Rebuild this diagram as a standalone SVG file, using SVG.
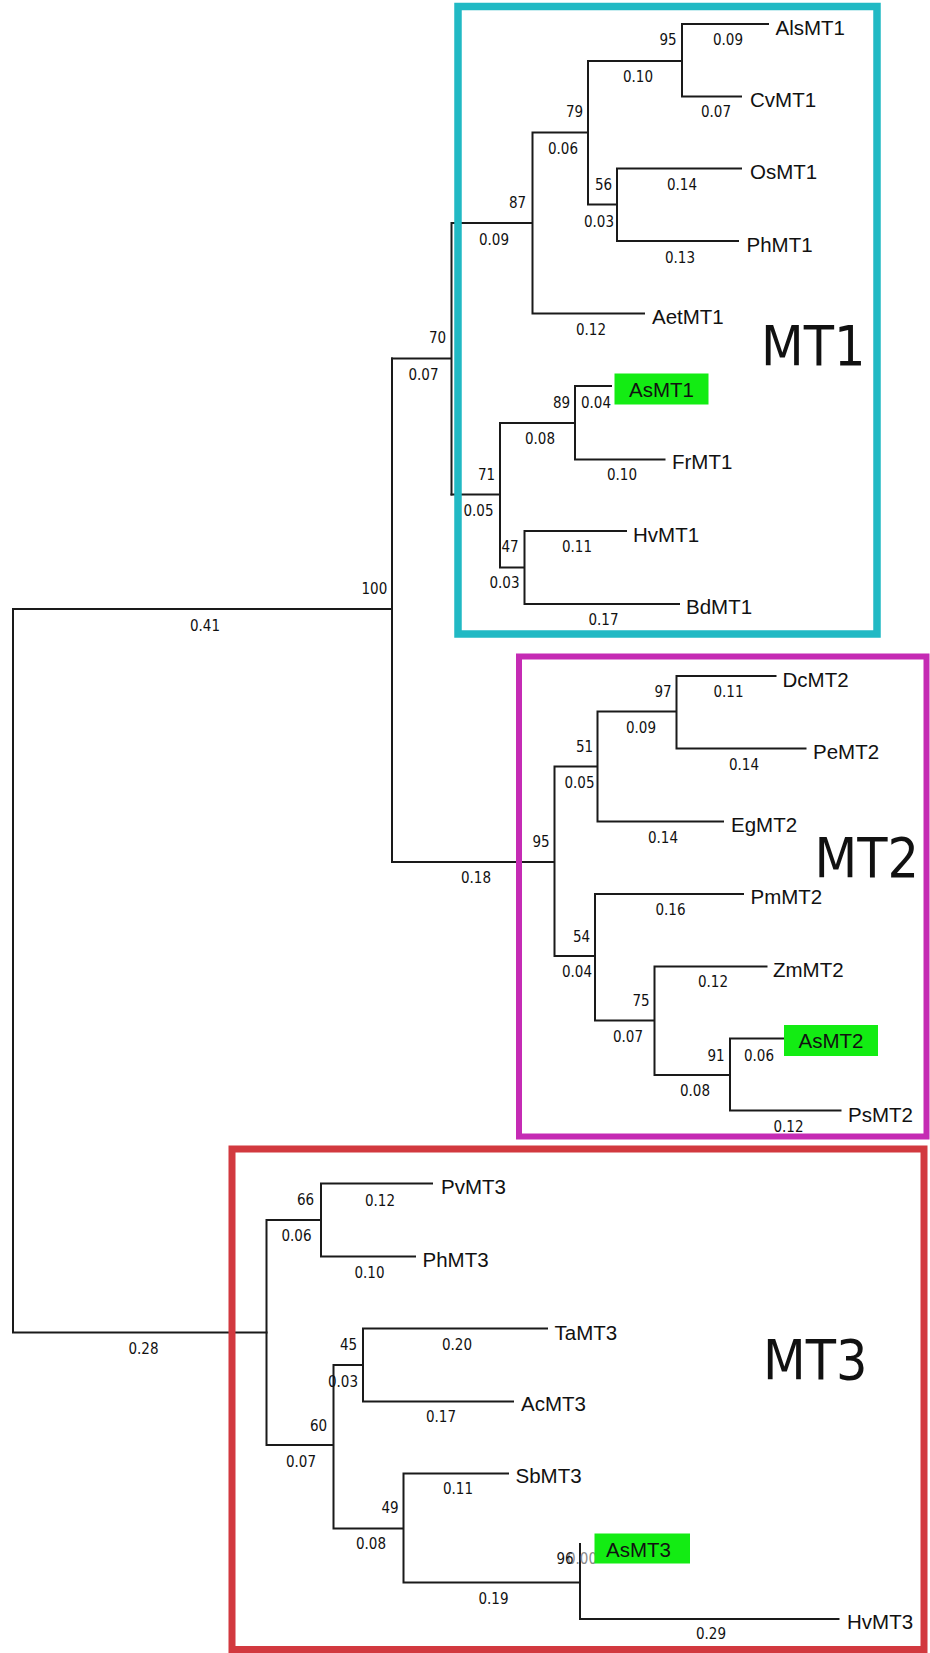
<svg xmlns="http://www.w3.org/2000/svg" width="930" height="1653" viewBox="0 0 930 1653">
<style>
.br{fill:none;stroke:#1a1a1a;stroke-width:2;stroke-linecap:square}
.leaf{font-family:"Liberation Sans",Arial,sans-serif;font-size:20.5px;fill:#111}
.num{font-family:"DejaVu Sans Condensed","DejaVu Sans",sans-serif;font-stretch:condensed;font-size:15px;fill:#111}
.big{font-family:"DejaVu Sans Condensed","DejaVu Sans",sans-serif;font-stretch:condensed;font-size:55px;fill:#111}
.hl{fill:#13ec13}
.box{fill:none}
</style>
<rect width="930" height="1653" fill="#fff"/>
<g id="connectors">
<path class="br" d="M13,609 H392 M13,609 V1332.5 H266.5 M392,358.5 V862"/>
<path class="br" d="M392,358.5 H451.5 M451.5,223 V494.5 M451.5,223 H532.5 M532.5,132.5 V313.5 H644 M532.5,132.5 H588 M588,61 V204.5 M588,61 H682 M682,24 V96.5 M682,24 H768 M682,96.5 H741 M588,204.5 H617 M617,168.5 V241 M617,168.5 H741 M617,241 H738"/>
<path class="br" d="M451.5,494.5 H500 M500,423 V567.5 M500,423 H575 M575,386 V459.5 M575,386 H611 M575,459.5 H664.5 M500,567.5 H524.5 M524.5,531 V604 M524.5,531 H626 M524.5,604 H679"/>
<path class="br" d="M392,862 H554.5 M554.5,766.5 V956 M554.5,766.5 H597.5 M597.5,711.5 V821.5 H723 M597.5,711.5 H676.5 M676.5,676 V748.5 M676.5,676 H775.5 M676.5,748.5 H805.5 M554.5,956 H595 M595,894 V1020.5 M595,894 H743 M595,1020.5 H654.5 M654.5,966.5 V1075 M654.5,966.5 H766.5 M654.5,1075 H730 M730,1038.5 V1110.5 M730,1038.5 H783.5 M730,1110.5 H840.5"/>
<path class="br" d="M266.5,1220 V1445 M266.5,1220 H321 M321,1183.5 V1256.5 M321,1183.5 H432 M321,1256.5 H415 M266.5,1445 H333.5 M333.5,1365 V1528.5 M333.5,1365 H363 M363,1328.5 V1401.5 M363,1328.5 H547 M363,1401.5 H513 M333.5,1528.5 H403.5 M403.5,1473.5 V1582.5 M403.5,1473.5 H508 M403.5,1582.5 H580 M580,1544 V1619 H838.5"/>
<g id="branch-lengths" class="num">
<text x="713" y="45">0.09</text><text x="623" y="82">0.10</text><text x="701" y="117">0.07</text>
<text x="548" y="154">0.06</text><text x="584" y="227">0.03</text><text x="667" y="190">0.14</text>
<text x="665" y="263">0.13</text><text x="479" y="245">0.09</text><text x="576" y="335">0.12</text>
<text x="408.5" y="380">0.07</text><text x="581" y="407.5">0.04</text><text x="607" y="480">0.10</text>
<text x="525" y="444">0.08</text><text x="463.5" y="516">0.05</text><text x="489.5" y="588">0.03</text>
<text x="562" y="551.5">0.11</text><text x="588.5" y="625">0.17</text><text x="190" y="630.5">0.41</text>
<text x="461" y="883">0.18</text><text x="564.5" y="788">0.05</text><text x="626" y="733">0.09</text>
<text x="713.5" y="697">0.11</text><text x="729" y="770">0.14</text><text x="648" y="842.5">0.14</text>
<text x="655.5" y="915">0.16</text><text x="562" y="977">0.04</text><text x="613" y="1041.5">0.07</text>
<text x="698" y="987">0.12</text><text x="680" y="1096">0.08</text><text x="744" y="1060.5">0.06</text>
<text x="773.5" y="1132">0.12</text>
<text x="128.5" y="1354">0.28</text><text x="281.5" y="1240.5">0.06</text><text x="365" y="1205.5">0.12</text>
<text x="354.5" y="1277.5">0.10</text><text x="442" y="1350">0.20</text><text x="328" y="1386.5">0.03</text>
<text x="426" y="1422">0.17</text><text x="286" y="1467">0.07</text><text x="356" y="1549">0.08</text>
<text x="443" y="1494">0.11</text><text x="478.5" y="1604">0.19</text><text x="567" y="1564" fill="#8a8a8a">0.00</text>
<text x="696" y="1639">0.29</text>
</g>
</g>
<g id="n100"><text class="num" x="361.5" y="594">100</text></g>
<g id="n70"><text class="num" x="429" y="343">70</text></g>
<g id="n87"><text class="num" x="509" y="208">87</text></g>
<g id="n79"><text class="num" x="566" y="117">79</text></g>
<g id="n95a"><text class="num" x="659.5" y="45">95</text></g>
<g id="n56"><text class="num" x="595" y="190">56</text></g>
<g id="n71"><text class="num" x="478" y="480">71</text></g>
<g id="n89"><text class="num" x="553" y="407.5">89</text></g>
<g id="n47"><text class="num" x="501.5" y="551.5">47</text></g>
<g id="n95b"><text class="num" x="532.5" y="847">95</text></g>
<g id="n51"><text class="num" x="576" y="751.5">51</text></g>
<g id="n97"><text class="num" x="654.5" y="697">97</text></g>
<g id="n54"><text class="num" x="573" y="941.5">54</text></g>
<g id="n75"><text class="num" x="632.5" y="1006">75</text></g>
<g id="n91"><text class="num" x="707.5" y="1060.5">91</text></g>
<g id="n66"><text class="num" x="297" y="1205">66</text></g>
<g id="n60"><text class="num" x="310" y="1430.5">60</text></g>
<g id="n45"><text class="num" x="340" y="1350">45</text></g>
<g id="n49"><text class="num" x="381.5" y="1512.5">49</text></g>
<g id="n96"><text class="num" x="556.5" y="1564" fill="#333">96</text></g>
<g id="AlsMT1"><text class="leaf" x="775.5" y="34.5">AlsMT1</text></g>
<g id="CvMT1"><text class="leaf" x="750" y="106.5">CvMT1</text></g>
<g id="OsMT1"><text class="leaf" x="750" y="178.5">OsMT1</text></g>
<g id="PhMT1"><text class="leaf" x="746.5" y="251.5">PhMT1</text></g>
<g id="AetMT1"><text class="leaf" x="652" y="324">AetMT1</text></g>
<g id="AsMT1"><rect class="hl" x="614.5" y="373.5" width="94" height="31"/><text class="leaf" x="629" y="397">AsMT1</text></g>
<g id="FrMT1"><text class="leaf" x="672" y="469">FrMT1</text></g>
<g id="HvMT1"><text class="leaf" x="633" y="541.5">HvMT1</text></g>
<g id="BdMT1"><text class="leaf" x="686" y="614">BdMT1</text></g>
<g id="DcMT2"><text class="leaf" x="782.5" y="686.5">DcMT2</text></g>
<g id="PeMT2"><text class="leaf" x="813" y="759">PeMT2</text></g>
<g id="EgMT2"><text class="leaf" x="731" y="831.5">EgMT2</text></g>
<g id="PmMT2"><text class="leaf" x="750.5" y="903.5">PmMT2</text></g>
<g id="ZmMT2"><text class="leaf" x="773" y="976.5">ZmMT2</text></g>
<g id="AsMT2"><rect class="hl" x="784" y="1025" width="94" height="31"/><text class="leaf" x="798.5" y="1047.5">AsMT2</text></g>
<g id="PsMT2"><text class="leaf" x="848" y="1121.5">PsMT2</text></g>
<g id="PvMT3"><text class="leaf" x="441" y="1193.5">PvMT3</text></g>
<g id="PhMT3"><text class="leaf" x="422.5" y="1266.5">PhMT3</text></g>
<g id="TaMT3"><text class="leaf" x="554.5" y="1339.5">TaMT3</text></g>
<g id="AcMT3"><text class="leaf" x="521" y="1410.5">AcMT3</text></g>
<g id="SbMT3"><text class="leaf" x="515.5" y="1482.5">SbMT3</text></g>
<g id="AsMT3"><rect class="hl" x="594.5" y="1533.5" width="95.5" height="30"/><text class="leaf" x="606" y="1556.5">AsMT3</text></g>
<g id="HvMT3"><text class="leaf" x="847" y="1628.5">HvMT3</text></g>
<g id="MT1"><rect class="box" x="458" y="6.5" width="419" height="627.5" stroke="#21b9c4" stroke-width="7.5"/><text class="big" x="761" y="364.5">MT1</text></g>
<g id="MT2"><rect class="box" x="519" y="656.5" width="407.5" height="480" stroke="#c52bb4" stroke-width="6"/><text class="big" x="814.5" y="877">MT2</text></g>
<g id="MT3"><rect class="box" x="232" y="1149" width="692" height="500.5" stroke="#d2393f" stroke-width="7"/><text class="big" x="763" y="1379">MT3</text></g>
</svg>
